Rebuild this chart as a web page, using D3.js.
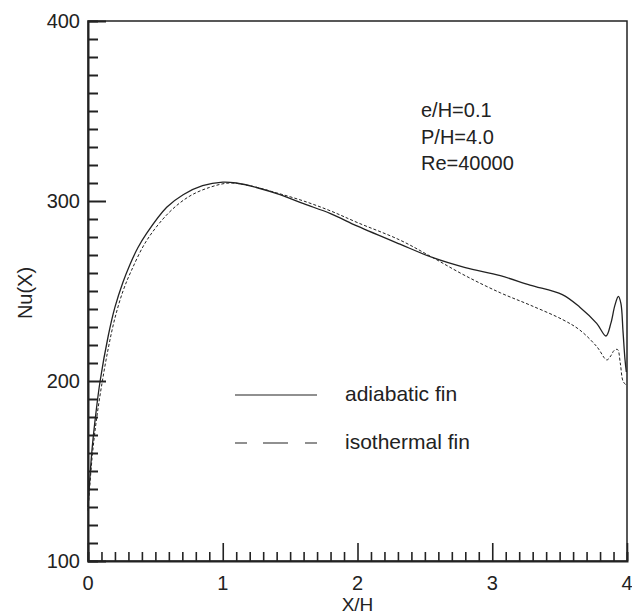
<!DOCTYPE html>
<html>
<head>
<meta charset="utf-8">
<script src="https://cdn.jsdelivr.net/npm/d3@7"></script>
<style>
  body { margin: 0; background: #fff; }
  text { font-family: "Liberation Sans", Arial, sans-serif; fill: #222; }
</style>
</head>
<body>
<svg id="chart" width="632" height="616"></svg>
<script>
// adiabatic fin (solid)
const adiabaticX = [0, 0.03, 0.06, 0.09, 0.15, 0.2, 0.26, 0.31, 0.37, 0.435, 0.584, 0.706, 0.85, 1.0, 1.1, 1.25, 1.425, 1.6, 1.8, 2.0, 2.315, 2.56, 2.8, 3.06, 3.28, 3.52, 3.65, 3.775, 3.844, 3.88, 3.91, 3.936, 3.955, 3.97, 3.985, 3.995];
const adiabaticNu = [130, 162, 183, 200, 225, 241, 255, 264.5, 274, 282, 296.5, 303.5, 308.5, 310.5, 310, 307.5, 303.5, 298.5, 293, 286, 276, 268.5, 263, 258.5, 253.3, 248, 241, 232, 225, 232, 242, 247, 243, 228, 212, 205];

// isothermal fin (dashed)
const isothermalX = [0, 0.03, 0.06, 0.1, 0.15, 0.2, 0.26, 0.32, 0.435, 0.6, 0.75, 0.9, 1.05, 1.2, 1.4, 1.6, 1.8, 2.0, 2.315, 2.56, 2.8, 3.06, 3.28, 3.525, 3.65, 3.777, 3.85, 3.88, 3.905, 3.93, 3.95, 3.97, 3.99];
const isothermalNu = [128, 157, 177, 197, 218, 235, 250, 261, 278, 293.5, 302.5, 307.5, 310, 308.5, 304.5, 300, 294.5, 288, 278.3, 268.5, 258.5, 249, 242.2, 234, 228.3, 219, 211.7, 214, 217, 217.5, 210, 200, 198];

const xTicks = [0, 1, 2, 3, 4];
const yTicks = [100, 200, 300, 400];
const legendLabels = ["adiabatic fin", "isothermal fin"];
const noteLines = ["e/H=0.1", "P/H=4.0", "Re=40000"];

const svg = d3.select("#chart");
const plotL = 88, plotR = 627, plotT = 21, plotB = 561;

const x = d3.scaleLinear().domain([0, 4]).range([plotL, plotR]);
const y = d3.scaleLinear().domain([100, 400]).range([plotB, plotT]);

// frame
svg.append("rect")
    .attr("x", plotL).attr("y", plotT)
    .attr("width", plotR - plotL).attr("height", plotB - plotT)
    .attr("fill", "none").attr("stroke", "#222").attr("stroke-width", 1.5);

// left axis, ticks pointing inward
const yAxis = d3.axisRight(y)
    .tickValues(d3.range(100, 401, 10))
    .tickSize(10)
    .tickFormat("");
const gy = svg.append("g").attr("transform", `translate(${plotL},0)`).call(yAxis);
gy.select(".domain").attr("stroke-width", 2).attr("stroke", "#222");
gy.selectAll(".tick line")
    .attr("stroke", "#222").attr("stroke-width", 2)
    .attr("x2", d => d % 100 === 0 ? 18 : 10);

// bottom axis, ticks pointing up
const xAxis = d3.axisTop(x)
    .tickValues(d3.range(0, 41).map(d => d / 10))
    .tickSize(9)
    .tickFormat("");
const gx = svg.append("g").attr("transform", `translate(0,${plotB})`).call(xAxis);
gx.select(".domain").attr("stroke-width", 2).attr("stroke", "#222");
gx.selectAll(".tick line")
    .attr("stroke", "#222").attr("stroke-width", 1.6)
    .attr("y2", (d, i) => i % 10 === 0 ? -18 : -9);

// tick labels
svg.selectAll(".ylab").data(yTicks).enter().append("text")
    .attr("x", 80).attr("y", d => y(d))
    .attr("dy", "0.36em")
    .attr("text-anchor", "end")
    .attr("font-size", 20)
    .text(d => d);

svg.selectAll(".xlab").data(xTicks).enter().append("text")
    .attr("x", d => x(d)).attr("y", 590)
    .attr("text-anchor", "middle")
    .attr("font-size", 20)
    .text(d => d);

svg.append("text")
    .attr("x", x(2)).attr("y", 611)
    .attr("text-anchor", "middle")
    .attr("font-size", 19)
    .text("X/H");

svg.append("text")
    .attr("transform", "translate(32,293) rotate(-90)")
    .attr("text-anchor", "middle")
    .attr("font-size", 20)
    .text("Nu(X)");

// curves
const line = d3.line()
    .x(d => x(d[0]))
    .y(d => y(d[1]))
    .curve(d3.curveCatmullRom.alpha(0.5));

svg.append("path")
    .datum(d3.zip(isothermalX, isothermalNu))
    .attr("d", line)
    .attr("fill", "none").attr("stroke", "#222")
    .attr("stroke-width", 1).attr("stroke-dasharray", "3,2");

svg.append("path")
    .datum(d3.zip(adiabaticX, adiabaticNu))
    .attr("d", line)
    .attr("fill", "none").attr("stroke", "#222")
    .attr("stroke-width", 1.3);

// legend
const legend = svg.append("g");
legend.append("line")
    .attr("x1", 235).attr("x2", 317).attr("y1", 395).attr("y2", 395)
    .attr("stroke", "#222").attr("stroke-width", 1.2);
legend.append("line")
    .attr("x1", 235).attr("x2", 317).attr("y1", 443).attr("y2", 443)
    .attr("stroke", "#222").attr("stroke-width", 1.2)
    .attr("stroke-dasharray", "12,16,25,17,12");
legend.selectAll("text").data(legendLabels).enter().append("text")
    .attr("x", 345).attr("y", (d, i) => 401 + i * 48)
    .attr("font-size", 21)
    .text(d => d);

// parameters
svg.selectAll(".note").data(noteLines).enter().append("text")
    .attr("x", 421).attr("y", (d, i) => 117 + i * 26.5)
    .attr("font-size", 20)
    .text(d => d);
</script>
</body>
</html>
